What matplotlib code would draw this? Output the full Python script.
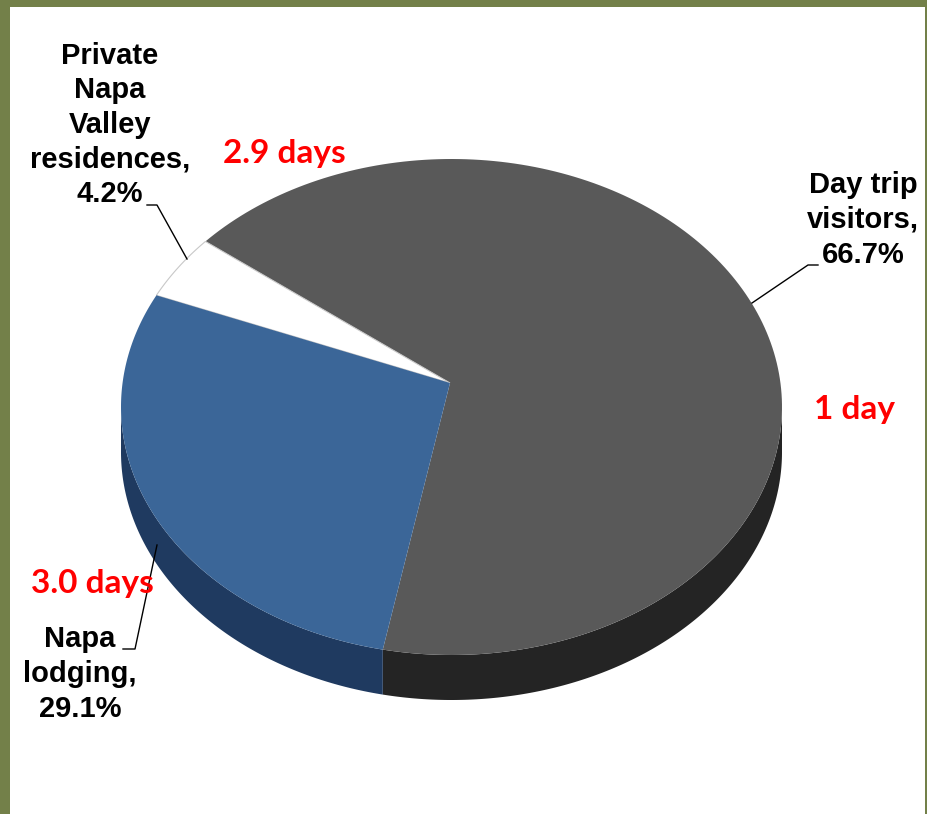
import numpy as np
import matplotlib.pyplot as plt
from matplotlib.patches import Polygon, Rectangle

# data
segments = ['Day trip visitors', 'Private Napa Valley residences', 'Napa lodging']
shares = [66.7, 4.2, 29.1]
stay_labels = ['1 day', '2.9 days', '3.0 days']
seg_labels = ['Day trip\nvisitors,\n66.7%',
              'Private\nNapa\nValley\nresidences,\n4.2%',
              'Napa\nlodging,\n29.1%']
top_colors = ['#595959', '#ffffff', '#3b6698']
side_colors = ['#242424', '#d9d9d9', '#1f3a60']
edge_colors = ['none', '#c8c8c8', 'none']

W, H = 928, 814
fig = plt.figure(figsize=(W / 100, H / 100), dpi=100)
ax = fig.add_axes([0, 0, 1, 1])
ax.set_xlim(0, W)
ax.set_ylim(H, 0)
ax.axis('off')

# pie geometry (pixels)
cx, cy, rx, ry = 451.5, 407, 330.5, 248
apex = (450, 383)
depth = 45
start = -102

def arc(a0, a1, n=200):
    t = np.radians(np.linspace(a0, a1, n))
    return np.column_stack([cx + rx * np.cos(t), cy - ry * np.sin(t)])

edges = start + 360 * np.concatenate([[0], np.cumsum(shares)]) / 100.0

# side walls (front half only)
for i in range(len(shares)):
    a0, a1 = edges[i], edges[i + 1]
    for k in (-1, 0, 1):
        b0, b1 = max(a0, 180 + 360 * k), min(a1, 360 + 360 * k)
        if b1 > b0:
            top = arc(b0, b1)
            bot = top[::-1] + [0, depth]
            ax.add_patch(Polygon(np.vstack([top, bot]), closed=True,
                                 fc=side_colors[i], ec='none', zorder=1))

# top faces
for i in range(len(shares)):
    pts = np.vstack([[apex], arc(edges[i], edges[i + 1])])
    ax.add_patch(Polygon(pts, closed=True, fc=top_colors[i],
                         ec=edge_colors[i], lw=0.8, zorder=2))

# category labels
lab_font = dict(family='Liberation Sans', fontweight='bold', fontsize=21,
                color='black', ha='center', va='center', linespacing=1.3)
ax.text(863, 220, seg_labels[0], **lab_font)
ax.text(110, 125, seg_labels[1], **lab_font)
ax.text(80, 674, seg_labels[2], **lab_font)

# leader lines
ax.plot([818, 808, 752], [265, 265, 303], color='black', lw=1, zorder=3)
ax.plot([147, 157, 187], [205, 205, 259], color='black', lw=1, zorder=3)
ax.plot([123, 135, 157], [649, 649, 545], color='black', lw=1, zorder=3)

# average stay labels
red_font = dict(family='Lato', fontweight='bold', fontsize=24,
                color='#ff0000', ha='center', va='center')
ax.text(855, 410, stay_labels[0], **red_font)
ax.text(284, 153, stay_labels[1], **red_font)
ax.text(92, 584, stay_labels[2], **red_font)

# frame
olive = '#738049'
ax.add_patch(Rectangle((0, 0), 10, H, fc=olive, ec='none', zorder=5))
ax.add_patch(Rectangle((0, 0), W, 7, fc=olive, ec='none', zorder=5))
ax.add_patch(Rectangle((925.5, 0), 2.5, H, fc=olive, ec='none', zorder=5))

fig.savefig('out.png', dpi=100)
